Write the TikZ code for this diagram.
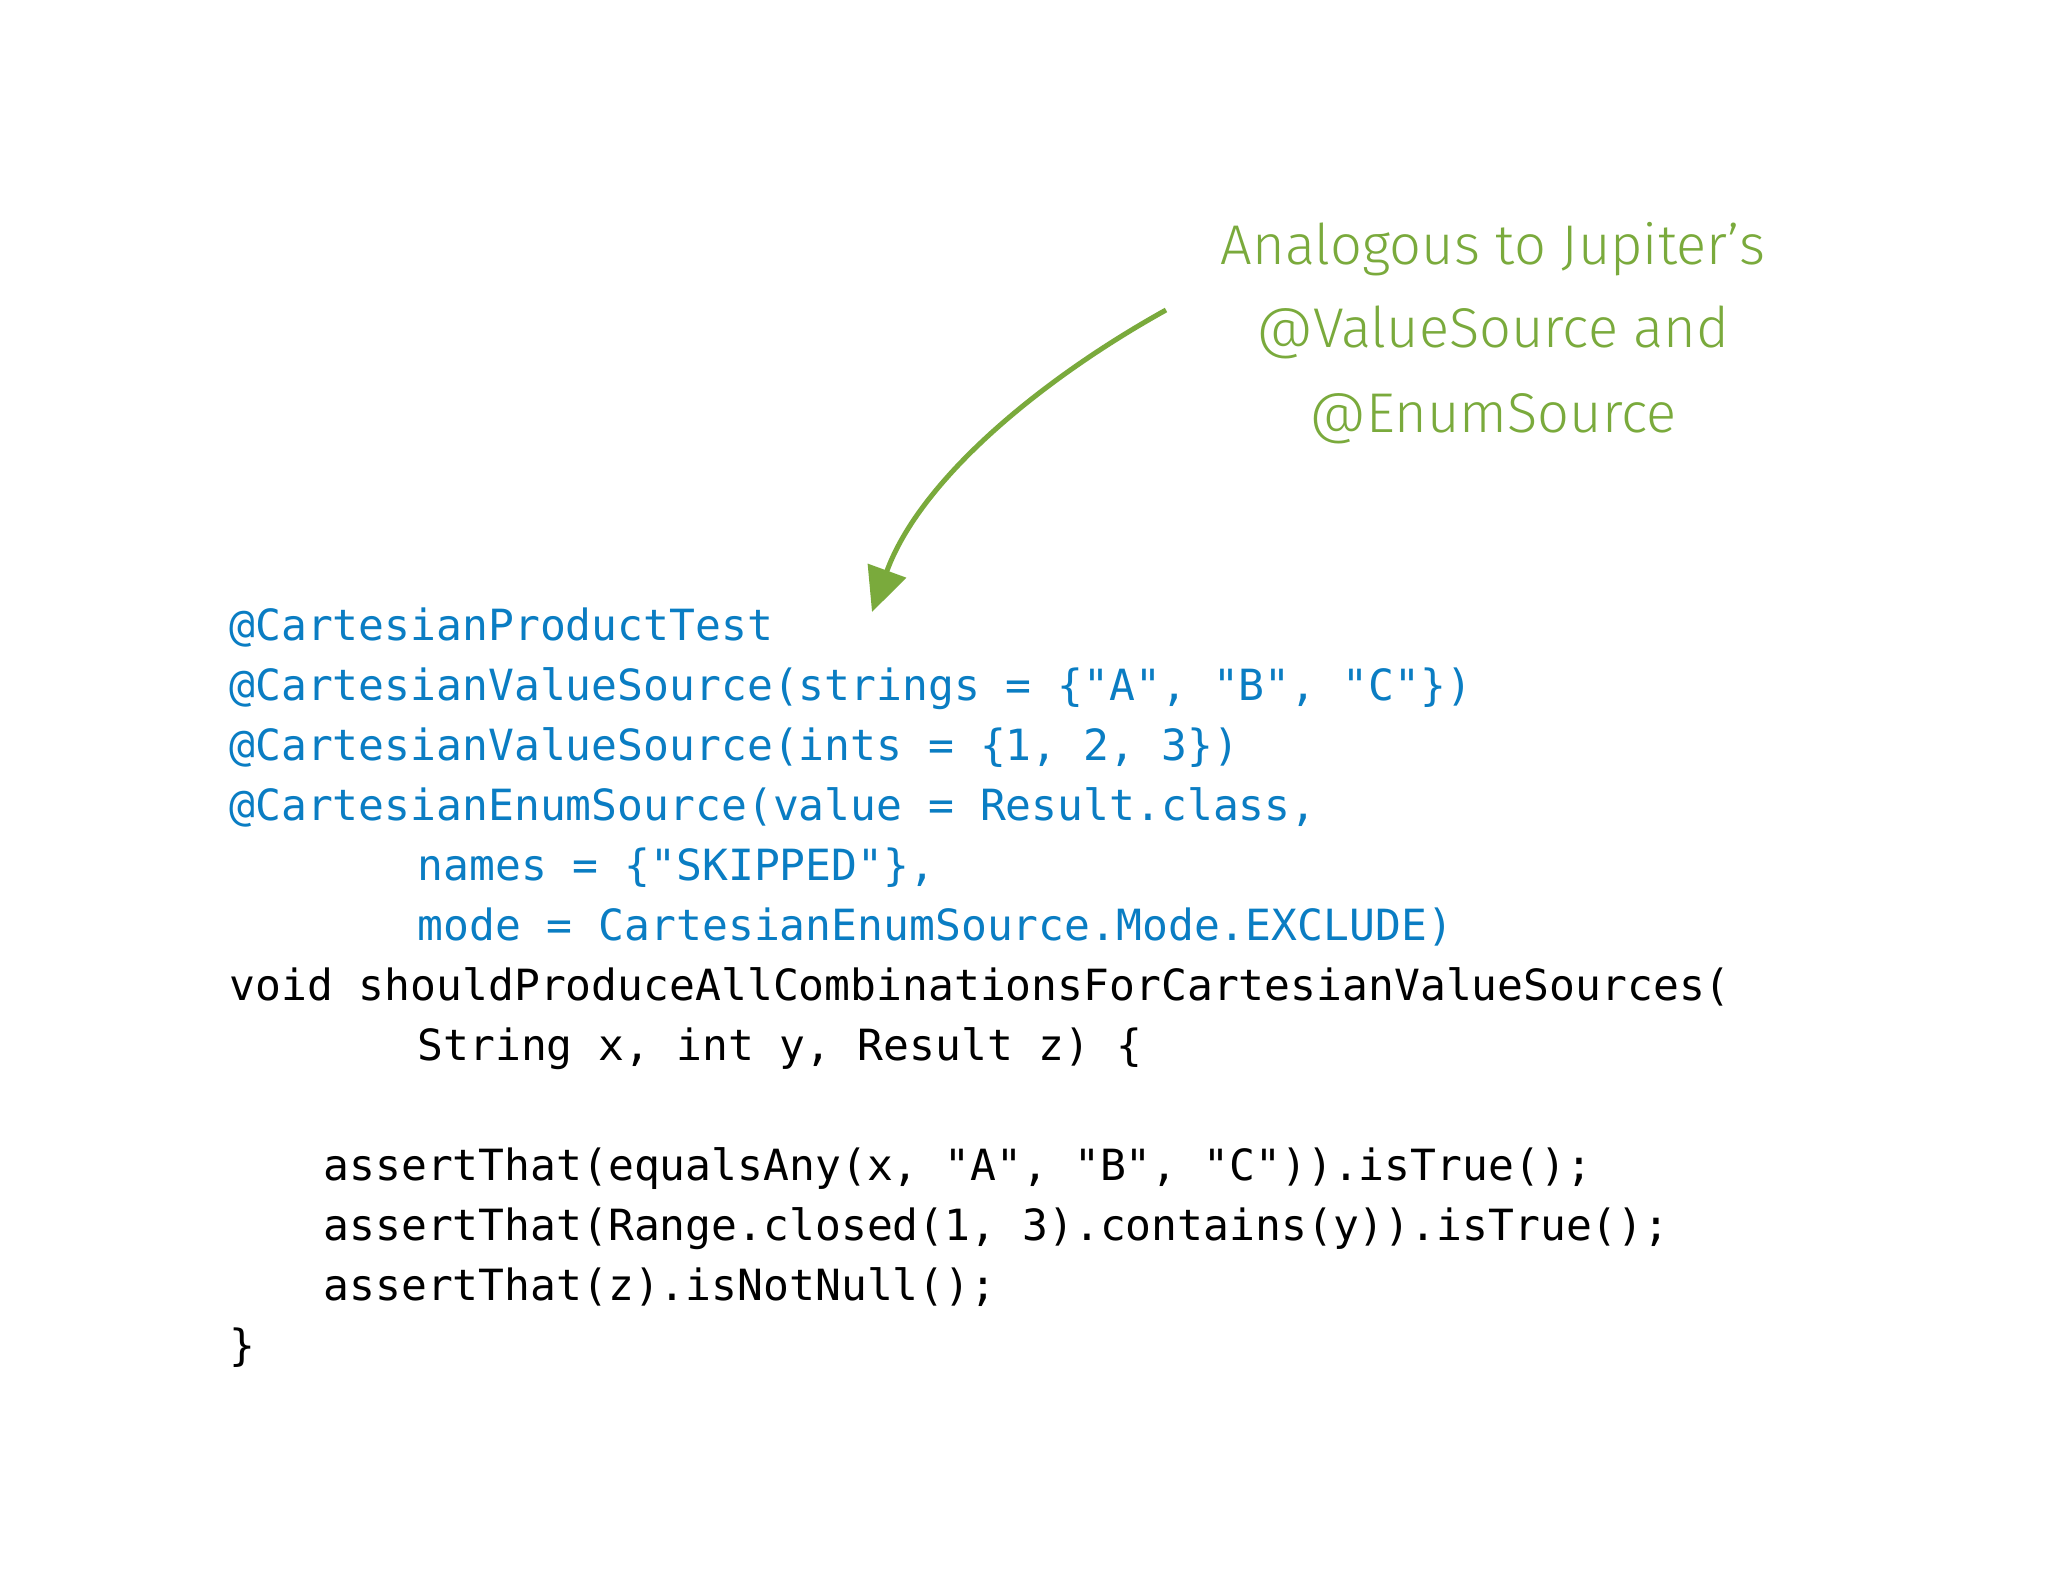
\documentclass[tikz,border=0pt]{standalone}
\usepackage{fontspec}
\setmonofont{DejaVu Sans Mono}
\newfontfamily\notefont{Fira Sans Light}
\usetikzlibrary{arrows.meta}
\definecolor{codeblue}{RGB}{10,125,195}
\definecolor{notegreen}{RGB}{122,170,60}
\begin{document}
\begin{tikzpicture}[x=0.5pt,y=-0.5pt,
  code/.style={anchor=base west,inner sep=0pt,font=\ttfamily\fontsize{21.5}{24}\selectfont},
  anno/.style={code,text=codeblue},
  plain/.style={code,text=black},
  note/.style={anchor=base,inner sep=0pt,text=notegreen,font=\notefont\fontsize{28}{32}\selectfont}]
\useasboundingbox (0,0) rectangle (2048,1582);
\fill[white] (0,0) rectangle (2048,1582);
\def\lx{229}
\node[anno] (l1) at (\lx,640) {@CartesianProductTest};
\node[anno] (l2) at (\lx,700) {@CartesianValueSource(strings = \{"A", "B", "C"\})};
\node[anno] (l3) at (\lx,760) {@CartesianValueSource(ints = \{1, 2, 3\})};
\node[anno] (l4) at (\lx,820) {@CartesianEnumSource(value = Result.class,};
\node[anno] (l5) at (\lx,880) {\hspace*{8ex}names = \{"SKIPPED"\},};
\node[anno] (l6) at (\lx,940) {\hspace*{8ex}mode = CartesianEnumSource.Mode.EXCLUDE)};
\node[plain] (l7) at (\lx,1000) {void shouldProduceAllCombinationsForCartesianValueSources(};
\node[plain] (l8) at (\lx,1060) {\hspace*{8ex}String x, int y, Result z) \{};
\node[plain] (l9) at (\lx,1180) {\hspace*{4ex}assertThat(equalsAny(x, "A", "B", "C")).isTrue();};
\node[plain] (l10) at (\lx,1240) {\hspace*{4ex}assertThat(Range.closed(1, 3).contains(y)).isTrue();};
\node[plain] (l11) at (\lx,1300) {\hspace*{4ex}assertThat(z).isNotNull();};
\node[plain] (l12) at (\lx,1360) {\}};
\node[note] (n1) at (1493,265) {Analogous to Jupiter’s};
\node[note] (n2) at (1493,348) {@ValueSource and};
\node[note] (n3) at (1493,433) {@EnumSource};
\coordinate (s) at (1166,310);
\coordinate (e) at (872,612);
\draw[notegreen,line width=2.5pt,-{Triangle[length=22pt,width=20pt]}] (s) .. controls (1040,380) and (920,480) .. (e);
\end{tikzpicture}
\end{document}
